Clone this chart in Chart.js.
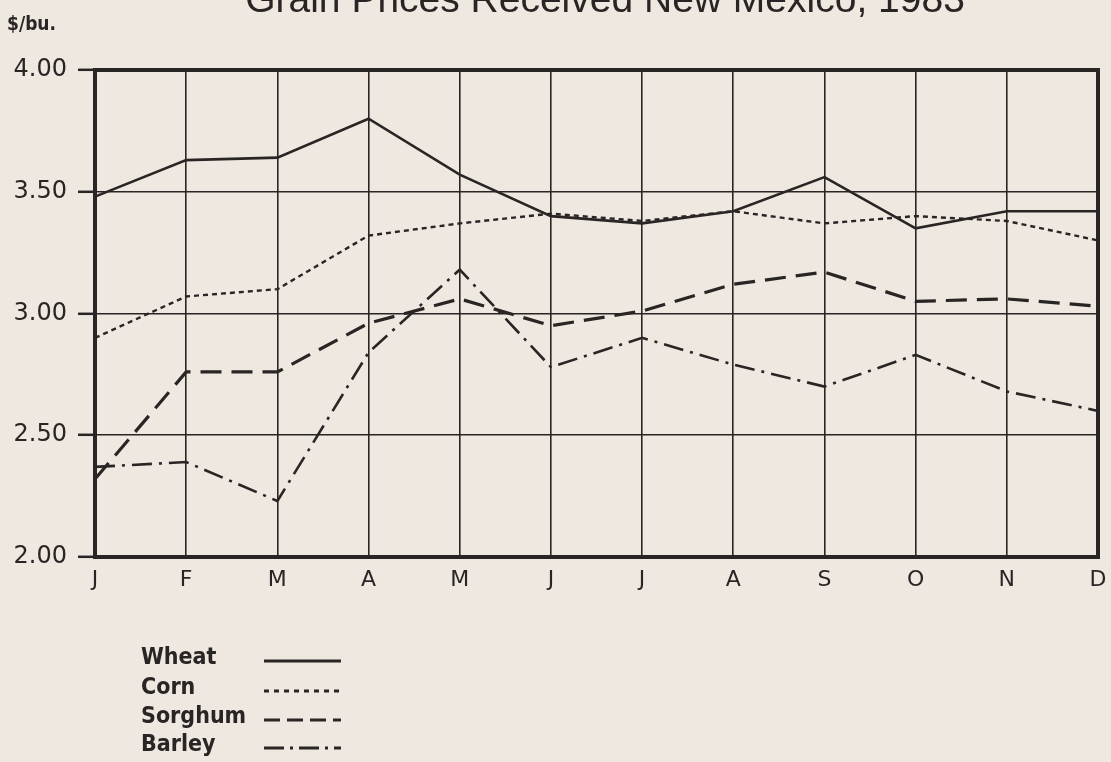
<!DOCTYPE html>
<html>
<head>
<meta charset="utf-8">
<script src="https://cdn.jsdelivr.net/npm/chart.js@4.4.0/dist/chart.umd.min.js"></script>
<style>
  html, body { margin: 0; padding: 0; background: #efe8e0; }
  #wrap { width: 1111px; height: 762px; position: relative; }
</style>
</head>
<body>
<div id="wrap"><canvas id="c" width="1111" height="762"></canvas></div>
<script>
const months = ['J','F','M','A','M','J','J','A','S','O','N','D'];
const wheat   = [3.48, 3.63, 3.64, 3.80, 3.57, 3.40, 3.37, 3.42, 3.56, 3.35, 3.42, 3.42];
const corn    = [2.90, 3.07, 3.10, 3.32, 3.37, 3.41, 3.38, 3.42, 3.37, 3.40, 3.38, 3.30];
const sorghum = [2.32, 2.76, 2.76, 2.96, 3.06, 2.95, 3.01, 3.12, 3.17, 3.05, 3.06, 3.03];
const barley  = [2.37, 2.39, 2.23, 2.84, 3.18, 2.78, 2.90, 2.79, 2.70, 2.83, 2.68, 2.60];
const seriesNames = ['Wheat', 'Corn', 'Sorghum', 'Barley'];
const yTicks = [2.00, 2.50, 3.00, 3.50, 4.00];
const titleText = 'Grain Prices Received New Mexico, 1983';
const unitText = '$/bu.';

const INK = '#2a2525';
const BG = '#efe8e0';
const dashes = [[], [5, 4], [21, 10], [20, 7, 3, 7]];
const widths = [2.6, 2.4, 3.2, 2.6];

const decor = {
  id: 'decor',
  beforeDraw(chart) {
    const ctx = chart.ctx;
    ctx.save();
    ctx.fillStyle = BG;
    ctx.fillRect(0, 0, chart.width, chart.height);
    ctx.restore();
  },
  afterDraw(chart) {
    const ctx = chart.ctx;
    const a = chart.chartArea;
    ctx.save();
    // frame
    ctx.strokeStyle = INK;
    ctx.lineWidth = 4;
    ctx.strokeRect(a.left, a.top, a.right - a.left, a.bottom - a.top);
    // title (partly cut off at top, as in the reference)
    ctx.fillStyle = INK;
    ctx.font = '39px "Liberation Sans", Arial, sans-serif';
    ctx.textAlign = 'center';
    ctx.textBaseline = 'alphabetic';
    ctx.fillText(titleText, 605, 12);
    // unit label
    ctx.font = 'bold 19px "DejaVu Sans Condensed", "DejaVu Sans", sans-serif';
    ctx.textAlign = 'left';
    ctx.textBaseline = 'middle';
    ctx.fillText(unitText, 7, 25);
    // legend
    const ys = [658, 688, 717, 745];
    chart.data.datasets.forEach((ds, i) => {
      ctx.fillStyle = INK;
      ctx.font = 'bold 23px "DejaVu Sans Condensed", "DejaVu Sans", sans-serif';
      ctx.textAlign = 'left';
      ctx.textBaseline = 'middle';
      ctx.fillText(ds.label, 141, ys[i]);
      ctx.beginPath();
      ctx.setLineDash(i === 1 ? [5, 5] : (i === 2 ? [16, 7] : (i === 3 ? [20, 6, 3, 6] : [])));
      ctx.lineWidth = 3;
      ctx.strokeStyle = INK;
      ctx.moveTo(264, ys[i] + 3);
      ctx.lineTo(341, ys[i] + 3);
      ctx.stroke();
    });
    ctx.restore();
  }
};

const allSeries = [wheat, corn, sorghum, barley];

new Chart(document.getElementById('c'), {
  type: 'line',
  data: {
    labels: months,
    datasets: allSeries.map((d, i) => ({
      label: seriesNames[i],
      data: d,
      borderColor: INK,
      backgroundColor: INK,
      borderWidth: widths[i],
      borderDash: dashes[i],
      pointRadius: 0,
      tension: 0,
      fill: false
    }))
  },
  options: {
    responsive: false,
    animation: false,
    layout: { padding: { top: 70, right: 13, left: 0, bottom: 0 } },
    plugins: {
      legend: { display: false },
      title: { display: false },
      tooltip: { enabled: false }
    },
    scales: {
      x: {
        type: 'category',
        offset: false,
        border: { display: false },
        grid: { color: INK, lineWidth: 1.6, drawTicks: false },
        ticks: {
          color: INK,
          padding: 10,
          maxRotation: 0,
          autoSkip: false,
          font: { family: '"DejaVu Sans", sans-serif', size: 22 }
        },
        afterFit(scale) { scale.height = 205; scale.paddingRight = 0; scale.paddingLeft = 0; }
      },
      y: {
        min: 2,
        max: 4,
        border: { display: false },
        grid: { color: INK, lineWidth: 1.6, drawTicks: true, tickLength: 17, tickColor: INK, tickWidth: 2.5 },
        afterBuildTicks(scale) { scale.ticks = yTicks.map(v => ({ value: v })); },
        ticks: {
          color: INK,
          padding: 11,
          font: { family: '"DejaVu Sans", sans-serif', size: 24 },
          callback: v => Number(v).toFixed(2)
        },
        afterFit(scale) { scale.width = 95; }
      }
    }
  },
  plugins: [decor]
});
</script>
</body>
</html>
